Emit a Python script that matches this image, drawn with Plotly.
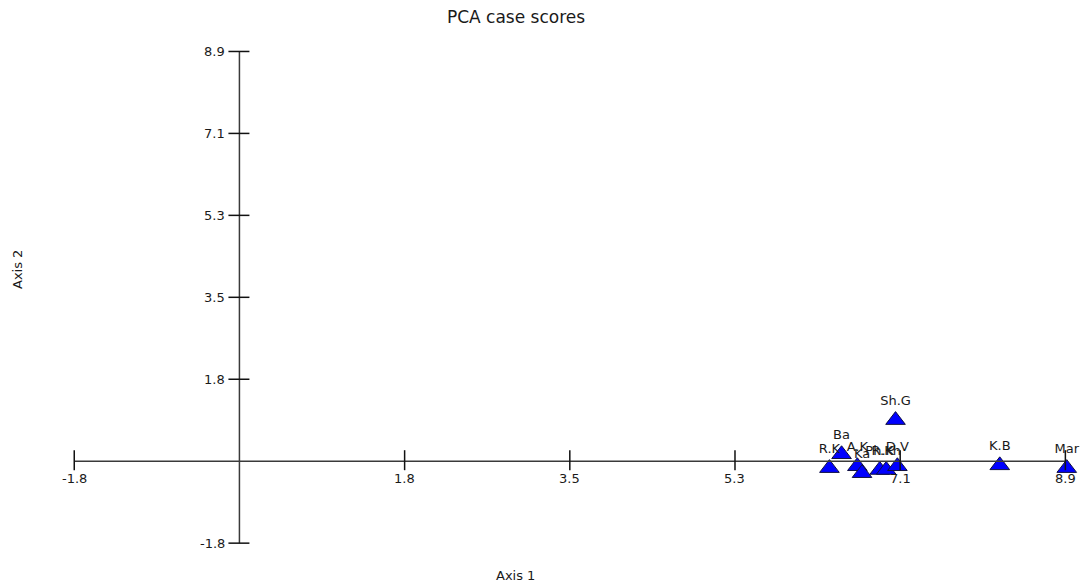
import plotly.graph_objects as go

# ---- data ----
case_labels = ["R.K", "Ba", "A.K", "Ka", "Ph.K", "R.Kh", "D.V", "Sh.G", "K.B", "Mar"]
axis1_scores = [6.34, 6.47, 6.64, 6.69, 6.88, 6.95, 7.07, 7.05, 8.17, 8.89]
axis2_scores = [-0.15, 0.15, -0.11, -0.26, -0.19, -0.19, -0.11, 0.89, -0.09, -0.15]

tick_values = [-1.775, 1.775, 3.55, 5.325, 7.1, 8.875]
tick_labels = ["-1.8", "1.8", "3.5", "5.3", "7.1", "8.9"]

FONT = "DejaVu Sans, Arial, sans-serif"
AXC = "#3a3a3a"
TXT = "#1a1a1a"

fig = go.Figure()
fig.add_trace(go.Scatter(
    x=axis1_scores, y=axis2_scores, mode="markers+text",
    text=case_labels, textposition="top center",
    textfont=dict(family=FONT, size=13, color=TXT),
    marker=dict(symbol="triangle-up", size=17, color="#0000ff",
                line=dict(color="#101040", width=1)),
    hoverinfo="text", showlegend=False, cliponaxis=False,
))

shapes = []
# axis lines through the origin
shapes.append(dict(type="line", xref="x", yref="y", x0=tick_values[0], x1=tick_values[-1],
                   y0=0, y1=0, line=dict(color=AXC, width=1.5), layer="above"))
shapes.append(dict(type="line", xref="x", yref="y", x0=0, x1=0,
                   y0=tick_values[0], y1=tick_values[-1], line=dict(color=AXC, width=1.5), layer="above"))
annotations = []
for v, lab in zip(tick_values, tick_labels):
    shapes.append(dict(type="line", xref="x", yref="y", ysizemode="pixel", yanchor=0,
                       x0=v, x1=v, y0=-9, y1=11, line=dict(color="#111", width=1.5), layer="above"))
    shapes.append(dict(type="line", xref="x", yref="y", xsizemode="pixel", xanchor=0,
                       y0=v, y1=v, x0=-11, x1=10, line=dict(color="#111", width=1.5), layer="above"))
    annotations.append(dict(x=v, y=0, xref="x", yref="y", text=lab, showarrow=False,
                            yanchor="top", yshift=-8, font=dict(family=FONT, size=13, color=TXT)))
    annotations.append(dict(x=0, y=v, xref="x", yref="y", text=lab, showarrow=False,
                            xanchor="right", xshift=-12, font=dict(family=FONT, size=13, color=TXT)))

annotations.append(dict(x=(515 - 44) / 1033, y=-3 / 554, xref="paper", yref="paper", text="Axis 1",
                        showarrow=False, yanchor="middle", font=dict(family=FONT, size=13, color=TXT)))
annotations.append(dict(x=(17 - 44) / 1033, y=(572 - 270) / 554, xref="paper", yref="paper",
                        text="Axis 2", textangle=-90, showarrow=False, xanchor="center",
                        yanchor="middle", font=dict(family=FONT, size=13, color=TXT)))

fig.update_layout(
    width=1083, height=584,
    margin=dict(l=44, r=6, t=18, b=12),
    paper_bgcolor="white", plot_bgcolor="white",
    title=dict(text="PCA case scores", x=516 / 1083, xanchor="center", y=1 - 17 / 584,
               yanchor="middle", font=dict(family=FONT, size=17, color=TXT)),
    xaxis=dict(range=[-2.1, 9.0], visible=False, fixedrange=True),
    yaxis=dict(range=[-2.4, 9.6], visible=False, fixedrange=True),
    shapes=shapes, annotations=annotations,
)

fig.write_html(
    "out.html",
    config={"displayModeBar": False},
    post_script="document.body.style.margin='0';document.body.style.overflow='hidden';",
)
